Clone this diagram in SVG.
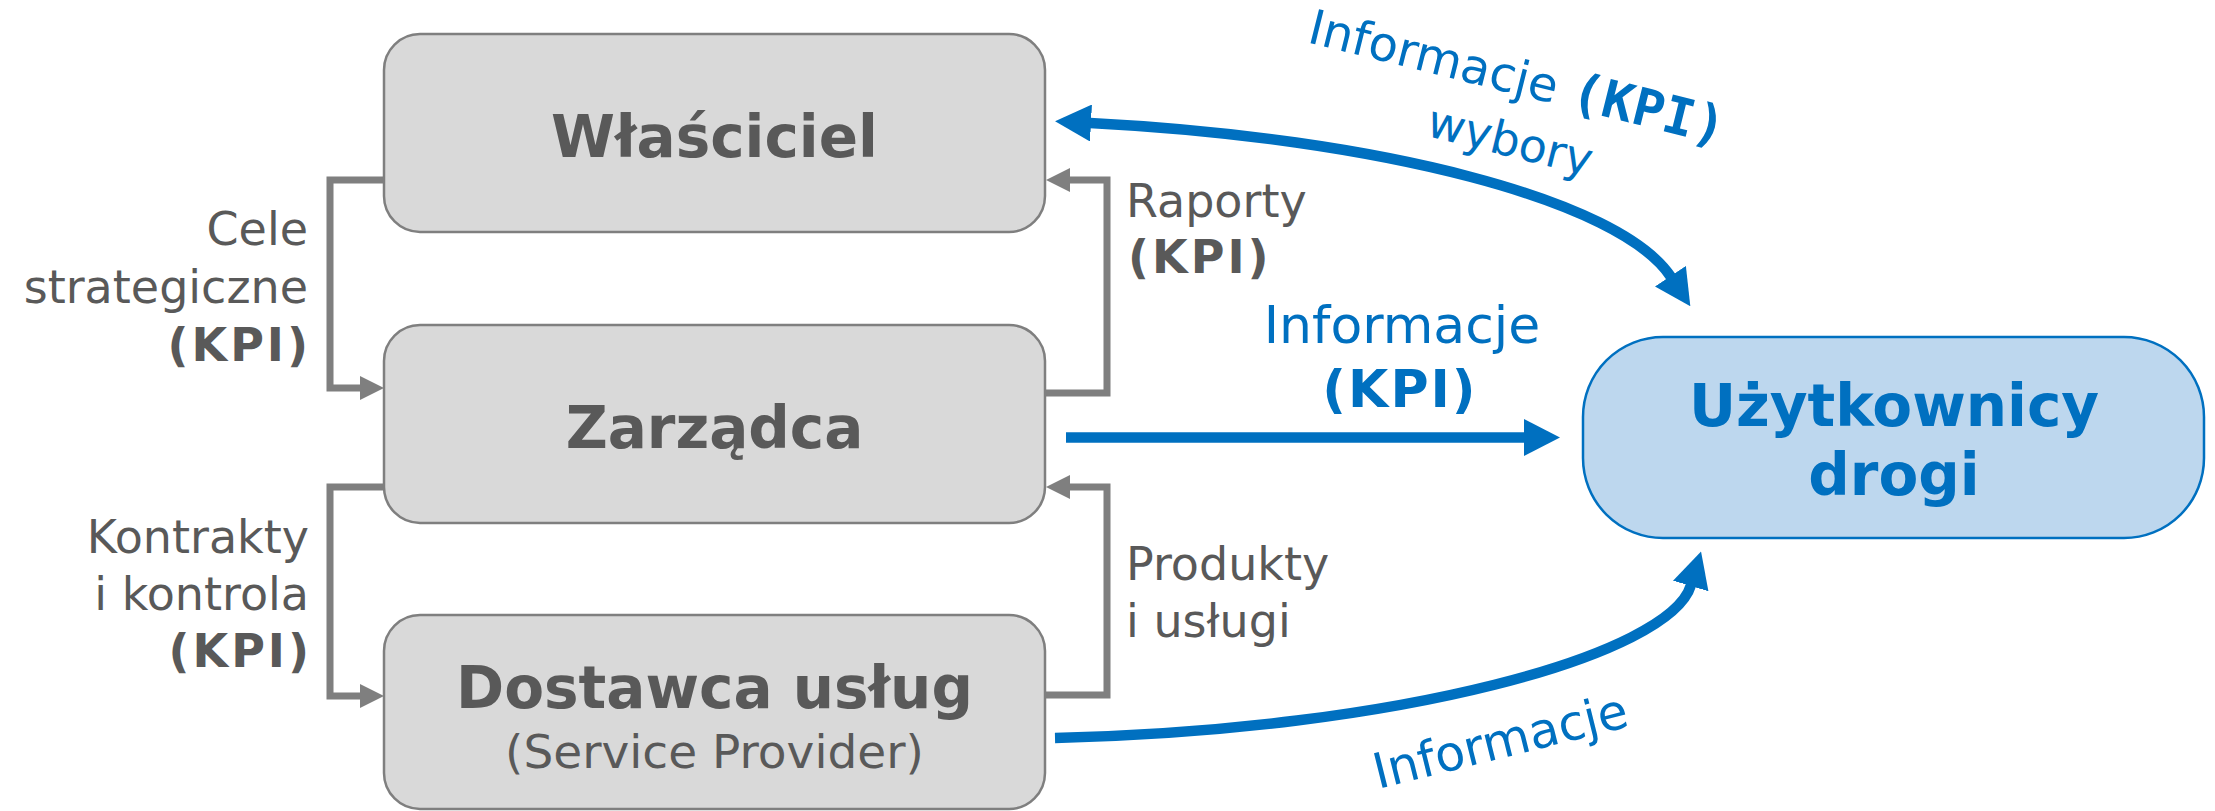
<svg xmlns="http://www.w3.org/2000/svg" width="2215" height="811" viewBox="0 0 2215 811">
<style>
.box{fill:#D9D9D9;stroke:#7F7F7F;stroke-width:2.5}
.ubox{fill:#BDD7EE;stroke:#0070C0;stroke-width:2.5}
.t{font-family:"DejaVu Sans",Verdana,sans-serif}
.title{font-size:58px;font-weight:bold;fill:#595959;text-anchor:middle}
.sub{font-size:47px;fill:#595959;text-anchor:middle}
.lab{font-size:46px;fill:#595959}
.kpi{font-weight:bold;letter-spacing:3px}
.blue{fill:#0070C0}
.utitle{font-size:58px;font-weight:bold;fill:#0070C0;text-anchor:middle}
.gline{fill:none;stroke:#7F7F7F;stroke-width:7;stroke-linejoin:miter}
.bline{fill:none;stroke:#0070C0;stroke-width:10.5}
</style>
<defs>
<marker id="ag" markerUnits="userSpaceOnUse" markerWidth="24" markerHeight="24" viewBox="0 0 24 24" refX="1" refY="12" orient="auto">
<path d="M0,0 L24,12 L0,24 z" fill="#7F7F7F"/>
</marker>
<marker id="ab" markerUnits="userSpaceOnUse" markerWidth="36" markerHeight="37" viewBox="0 0 36 37" refX="1" refY="18.5" orient="auto-start-reverse">
<path d="M0,0 L36,18.5 L0,37 z" fill="#0070C0"/>
</marker>
</defs>

<g id="node-wlasciciel">
<rect class="box" x="384" y="34" width="661" height="198" rx="36" ry="36"/>
<text class="t title" x="714.5" y="157">Właściciel</text>
</g>

<g id="node-zarzadca">
<rect class="box" x="384" y="325" width="661" height="198" rx="36" ry="36"/>
<text class="t title" x="714.5" y="448">Zarządca</text>
</g>

<g id="node-dostawca">
<rect class="box" x="384" y="615" width="661" height="194" rx="36" ry="36"/>
<text class="t title" x="714.5" y="708">Dostawca usług</text>
<text class="t sub" x="714.5" y="768">(Service Provider)</text>
</g>

<g id="node-uzytkownicy">
<rect class="ubox" x="1583" y="337" width="621" height="201" rx="80" ry="80"/>
<text class="t utitle" x="1894" y="426">Użytkownicy</text>
<text class="t utitle" x="1894" y="495">drogi</text>
</g>

<g id="connectors">
<path class="gline" d="M384,180 H330 V388 H361" marker-end="url(#ag)"/>
<path class="gline" d="M384,487 H330 V696 H361" marker-end="url(#ag)"/>
<path class="gline" d="M1045,393 H1107 V180 H1069" marker-end="url(#ag)"/>
<path class="gline" d="M1045,695 H1107 V487 H1069" marker-end="url(#ag)"/>
<path class="bline" d="M1066,437.5 H1525" marker-end="url(#ab)"/>
<path class="bline" d="M1090,123 C1380,138 1620,200 1671,277" marker-start="url(#ab)" marker-end="url(#ab)"/>
<path class="bline" d="M1055,738 C1400,730 1670,655 1691,585" marker-end="url(#ab)"/>
</g>

<g id="labels">
<text class="t lab" text-anchor="end" x="308" y="245">Cele</text>
<text class="t lab" text-anchor="end" x="308" y="303">strategiczne</text>
<text class="t lab kpi" text-anchor="end" x="311" y="361">(KPI)</text>

<text class="t lab" text-anchor="end" x="309" y="553">Kontrakty</text>
<text class="t lab" text-anchor="end" x="309" y="610">i kontrola</text>
<text class="t lab kpi" text-anchor="end" x="312" y="667">(KPI)</text>

<text class="t lab" x="1126" y="217">Raporty</text>
<text class="t lab kpi" x="1128" y="273">(KPI)</text>

<text class="t lab" x="1126" y="580">Produkty</text>
<text class="t lab" x="1126" y="637">i usługi</text>

<text class="t blue" font-size="52" text-anchor="middle" x="1402" y="343">Informacje</text>
<text class="t blue" font-size="52" font-weight="bold" text-anchor="middle" x="1400" y="407" letter-spacing="2">(KPI)</text>

<g transform="translate(1306,42) rotate(14)">
<text class="t blue" font-size="48" x="0" y="0">Informacje <tspan font-family="'DejaVu Sans Mono',monospace" font-weight="bold" font-size="52">(KPI)</tspan></text>
<text class="t blue" font-size="46" text-anchor="middle" x="222" y="62">wybory</text>
</g>

<text class="t blue" font-size="49" transform="translate(1378,789) rotate(-14)" x="0" y="0">Informacje</text>
</g>
</svg>
